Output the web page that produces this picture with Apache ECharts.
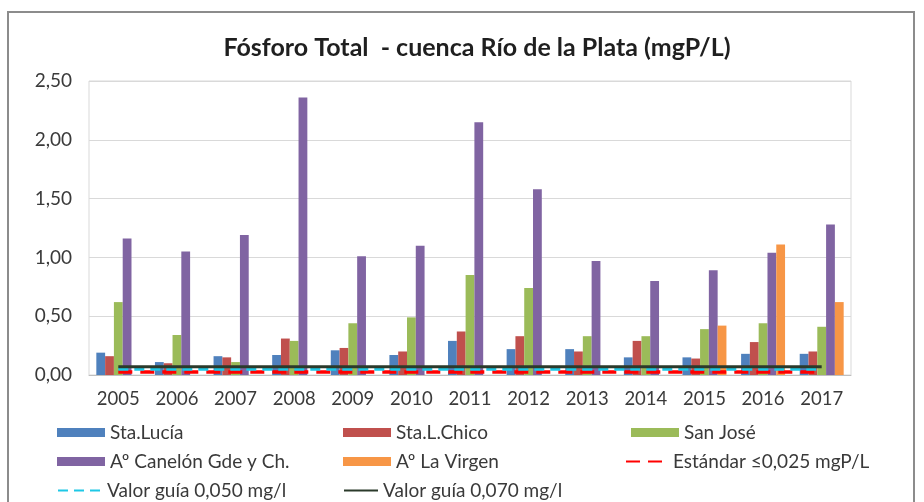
<!DOCTYPE html>
<html><head><meta charset="utf-8">
<script src="https://cdn.jsdelivr.net/npm/echarts@6/dist/echarts.min.js"></script>
<style>html,body{margin:0;padding:0;background:#fff}#c{width:924px;height:502px}</style>
</head><body><div id="c"></div>
<script>
const years = ['2005','2006','2007','2008','2009','2010','2011','2012','2013','2014','2015','2016','2017'];
const staLucia   = [0.19,0.11,0.16,0.17,0.21,0.17,0.29,0.22,0.22,0.15,0.15,0.18,0.18];
const staLChico  = [0.16,0.10,0.15,0.31,0.23,0.20,0.37,0.33,0.20,0.29,0.14,0.28,0.20];
const sanJose    = [0.62,0.34,0.11,0.29,0.44,0.49,0.85,0.74,0.33,0.33,0.39,0.44,0.41];
const canelon    = [1.16,1.05,1.19,2.36,1.01,1.10,2.15,1.58,0.97,0.80,0.89,1.04,1.28];
const laVirgen   = [null,null,null,null,null,null,null,null,null,null,0.42,1.11,0.62];
const estandar   = years.map(() => 0.025);
const guia050    = years.map(() => 0.050);
const guia070    = years.map(() => 0.070);

const FONT = 'Lato';
const names = ['Sta.Lucía','Sta.L.Chico','San José','Aº Canelón Gde y Ch.','Aº La Virgen','Estándar ≤0,025 mgP/L','Valor guía 0,050 mg/l','Valor guía 0,070 mg/l'];
// [left, top, itemWidth, isLine]
const legendPos = [[52,418,48,0],[338,418,48,0],[626,418,48,0],[52,447,48,0],[338,447,48,0],[620,447,42,1],[52,476,44,1],[338,476,34,1]];

const chart = echarts.init(document.getElementById('c'), null, {renderer:'canvas'});
const barSeries = (name, data, color) => ({
  name, type:'bar', data, barGap:'0%', barCategoryGap:'25%',
  itemStyle:{color}, z:2
});
const legends = names.map((n,i)=>{
  const l = {
    data:[n], left:legendPos[i][0], top:legendPos[i][1], itemWidth:legendPos[i][2], itemHeight:9, itemGap:0,
    textStyle:{fontFamily:FONT, fontSize:19, color:'#3a3a3a'}, selectedMode:false
  };
  if (legendPos[i][3]) l.itemStyle = {opacity:0}; else l.icon = 'rect';
  return l;
});
chart.setOption({
  animation:false,
  textStyle:{fontFamily:FONT},
  title:{text:'Fósforo Total  - cuenca Río de la Plata (mgP/L)', left:472, textAlign:'center', top:30,
    textStyle:{fontFamily:FONT, fontSize:25, fontWeight:'bold', color:'#1f1f1f'}},
  graphic:[{type:'rect', shape:{x:8,y:12,width:906,height:500}, style:{fill:'none', stroke:'#8c8c8c', lineWidth:2}, silent:true}],
  grid:{left:89, right:73, top:81, bottom:127, show:true, borderColor:'#d9d9d9', borderWidth:1},
  legend: legends,
  xAxis:{type:'category', data:years,
    axisLine:{lineStyle:{color:'#bfbfbf'}}, axisTick:{show:false},
    axisLabel:{fontFamily:FONT, fontSize:18.5, color:'#3a3a3a', margin:15}},
  yAxis:{type:'value', min:0, max:2.5, interval:0.5,
    axisLine:{show:false}, axisTick:{show:false},
    splitLine:{lineStyle:{color:'#d9d9d9'}},
    axisLabel:{fontFamily:FONT, fontSize:19, color:'#3a3a3a', margin:17,
      formatter:v=>v.toFixed(2).replace('.',',')}},
  series:[
    barSeries(names[0], staLucia, '#4F81BD'),
    barSeries(names[1], staLChico, '#C0504D'),
    barSeries(names[2], sanJose, '#9BBB59'),
    barSeries(names[3], canelon, '#8064A2'),
    barSeries(names[4], laVirgen, '#F79646'),
    {name:names[5], type:'line', data:estandar, symbol:'none', z:5,
      lineStyle:{color:'#FF0000', width:3.5, type:[14,8]}, itemStyle:{color:'#FF0000'}},
    {name:names[6], type:'line', data:guia050, symbol:'none', z:5,
      lineStyle:{color:'#1EC8E6', width:3.5, type:[10,6]}, itemStyle:{color:'#1EC8E6'}},
    {name:names[7], type:'line', data:guia070, symbol:'none', z:5,
      lineStyle:{color:'#2B3A2B', width:3}, itemStyle:{color:'#2B3A2B'}}
  ]
});
</script></body></html>
